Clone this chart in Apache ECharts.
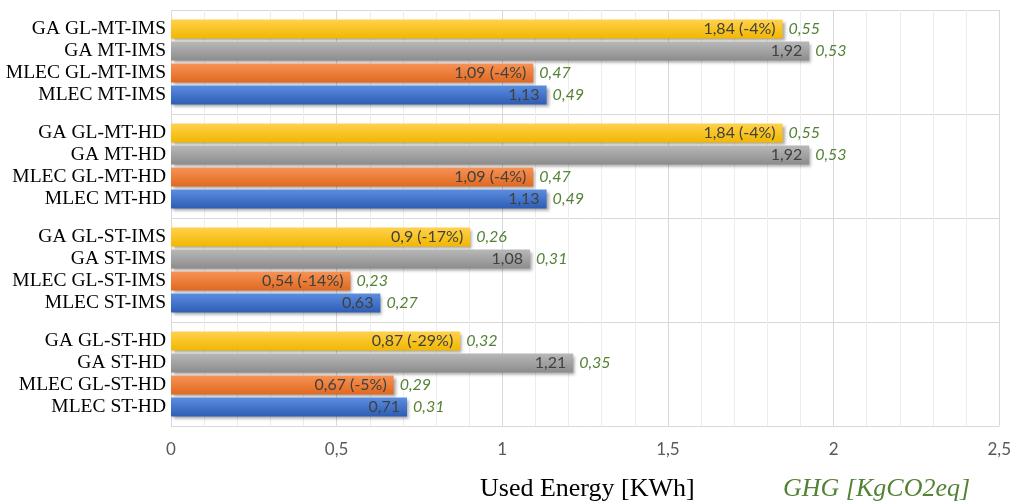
<!DOCTYPE html>
<html>
<head>
<meta charset="utf-8">
<script src="https://cdn.jsdelivr.net/npm/echarts@6/dist/echarts.min.js"></script>
<style>
  html, body { margin: 0; padding: 0; background: #fff; }
  #chart { width: 1014px; height: 503px; }
</style>
</head>
<body>
<div id="chart"></div>
<script>
// Scenario labels, top to bottom, four per block
const categories = [
  'GA GL-MT-IMS', 'GA MT-IMS', 'MLEC GL-MT-IMS', 'MLEC MT-IMS',
  'GA GL-MT-HD', 'GA MT-HD', 'MLEC GL-MT-HD', 'MLEC MT-HD',
  'GA GL-ST-IMS', 'GA ST-IMS', 'MLEC GL-ST-IMS', 'MLEC ST-IMS',
  'GA GL-ST-HD', 'GA ST-HD', 'MLEC GL-ST-HD', 'MLEC ST-HD'
];
// Used energy in kWh
const energy = [
  1.84, 1.92, 1.09, 1.13,
  1.84, 1.92, 1.09, 1.13,
  0.90, 1.08, 0.54, 0.63,
  0.87, 1.21, 0.67, 0.71
];
// Energy change of the GL variant against its baseline
const change = [
  '-4%', null, '-4%', null,
  '-4%', null, '-4%', null,
  '-17%', null, '-14%', null,
  '-29%', null, '-5%', null
];
// Greenhouse gas emissions in kgCO2eq
const ghg = [
  0.55, 0.53, 0.47, 0.49,
  0.55, 0.53, 0.47, 0.49,
  0.26, 0.31, 0.23, 0.27,
  0.32, 0.35, 0.29, 0.31
];
const groupSize = 4;

const comma = v => String(v).replace('.', ',');

// Bar fills by position inside a block: GA GL, GA, MLEC GL, MLEC
const fills = [
  ['#ffd24d', '#f2b700'],
  ['#b8b8b8', '#8c8c8c'],
  ['#f69356', '#e0691f'],
  ['#5b8de0', '#2d5db4']
];
const grad = (c) => new echarts.graphic.LinearGradient(0, 0, 0, 1, [
  { offset: 0, color: c[0] },
  { offset: 1, color: c[1] }
]);

const plotLeft = 171, plotRight = 12, plotTop = 10, blockH = 104, pad = 8;
const nGroups = categories.length / groupSize;

const grids = [], xAxes = [], yAxes = [], series = [];

// Background grid: vertical gridlines, tick labels and block separators
grids.push({ left: plotLeft, right: plotRight, top: plotTop, height: blockH * nGroups });
xAxes.push({
  gridIndex: 0, type: 'value', min: 0, max: 2.5, interval: 0.5,
  axisLine: { show: false }, axisTick: { show: false },
  axisLabel: { color: '#595959', fontSize: 17, fontFamily: 'Lato', margin: 15, formatter: comma },
  splitLine: { show: true, lineStyle: { color: '#d9d9d9', width: 1 } },
  minorTick: { show: false, splitNumber: 5 },
  minorSplitLine: { show: true, lineStyle: { color: '#ededed', width: 1 } }
});
yAxes.push({
  gridIndex: 0, type: 'value', min: 0, max: nGroups, interval: 1,
  axisLine: { show: false }, axisTick: { show: false }, axisLabel: { show: false },
  splitLine: { show: true, lineStyle: { color: '#d9d9d9', width: 1 } }
});

for (let g = 0; g < nGroups; g++) {
  const gi = g + 1;
  const idx = [...Array(groupSize).keys()].map(k => g * groupSize + k);
  grids.push({ left: plotLeft, right: plotRight, top: plotTop + g * blockH + pad, height: blockH - 2 * pad });
  xAxes.push({ gridIndex: gi, type: 'value', min: 0, max: 2.5, show: false });
  yAxes.push({
    gridIndex: gi, type: 'category', inverse: true,
    data: idx.map(i => categories[i]),
    axisLine: { show: false }, axisTick: { show: false },
    axisLabel: { interval: 0, color: '#000', fontSize: 19.5, fontFamily: 'Liberation Serif', margin: 5 }
  });
  series.push({
    type: 'bar', xAxisIndex: gi, yAxisIndex: gi, barWidth: 19, z: 3,
    data: idx.map((i, k) => ({
      value: energy[i],
      itemStyle: {
        color: grad(fills[k]),
        shadowColor: 'rgba(0,0,0,0.35)', shadowBlur: 3, shadowOffsetX: 2, shadowOffsetY: 2
      }
    })),
    label: {
      show: true, position: 'insideRight', distance: 7,
      color: '#404040', fontSize: 16, fontFamily: 'Lato',
      formatter: p => {
        const i = idx[p.dataIndex];
        return comma(energy[i]) + (change[i] ? ' (' + change[i] + ')' : '');
      }
    }
  });
  // GHG value printed just past the end of each energy bar
  series.push({
    type: 'bar', xAxisIndex: gi, yAxisIndex: gi, barWidth: 19, barGap: '-100%', z: 2, silent: true,
    data: idx.map(i => energy[i]),
    itemStyle: { color: 'rgba(0,0,0,0)' },
    label: {
      show: true, position: 'right', distance: 6,
      color: '#548235', fontSize: 16, fontFamily: 'Lato', fontStyle: 'italic',
      formatter: p => comma(ghg[idx[p.dataIndex]])
    }
  });
}

const chart = echarts.init(document.getElementById('chart'), null, { renderer: 'canvas' });
chart.setOption({
  animation: false,
  backgroundColor: '#fff',
  grid: grids,
  xAxis: xAxes,
  yAxis: yAxes,
  series: series,
  graphic: [
    {
      type: 'text', left: 480, top: 476,
      style: { text: 'Used Energy [KWh]', fill: '#000', font: '26px "Liberation Serif"' }
    },
    {
      type: 'text', left: 783, top: 476,
      style: { text: 'GHG [KgCO2eq]', fill: '#548235', font: 'italic 26px "Liberation Serif"' }
    }
  ]
});
</script>
</body>
</html>
